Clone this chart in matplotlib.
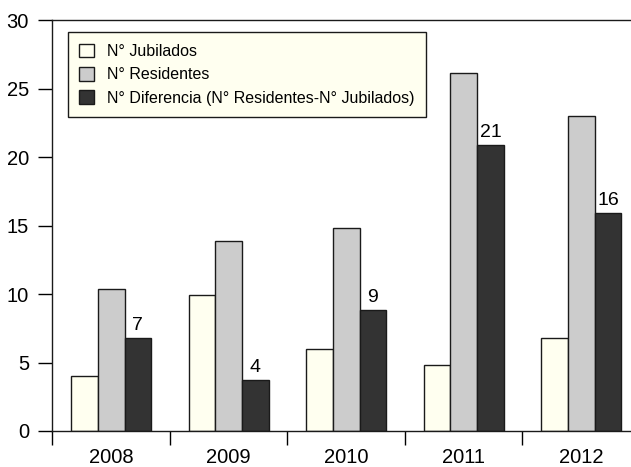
import numpy as np
import matplotlib
matplotlib.use("Agg")
import matplotlib.pyplot as plt

plt.rcParams['font.family'] = ['Liberation Sans', 'DejaVu Sans']

# datos
anios = ['2008', '2009', '2010', '2011', '2012']
jubilados = [4.0, 9.9, 6.0, 4.8, 6.8]
residentes = [10.4, 13.9, 14.8, 26.1, 23.0]
diferencia = [6.8, 3.7, 8.8, 20.9, 15.9]
etiquetas_dif = ['7', '4', '9', '21', '16']

fig = plt.figure(figsize=(6.31, 4.67), dpi=100)
ax = fig.add_axes([0.0832, 0.0771, 0.931, 0.880])

x = np.arange(len(anios))
w = 0.227
ax.bar(x - w, jubilados, w, color='#FFFFF0', edgecolor='#1a1a1a', linewidth=1,
       label='N° Jubilados')
ax.bar(x, residentes, w, color='#CCCCCC', edgecolor='#1a1a1a', linewidth=1,
       label='N° Residentes')
b3 = ax.bar(x + w, diferencia, w, color='#333333', edgecolor='#1a1a1a', linewidth=1,
            label='N° Diferencia (N° Residentes-N° Jubilados)')
ax.bar_label(b3, labels=etiquetas_dif, padding=3, fontsize=14)

ax.set_xlim(-0.5, len(anios) - 0.5)
ax.set_ylim(0, 30)
ax.set_yticks(np.arange(0, 31, 5))

# ticks de separacion entre categorias y etiquetas centradas
ax.set_xticks(np.arange(-0.5, len(anios), 1))
ax.set_xticklabels([])
ax.set_xticks(x, minor=True)
ax.set_xticklabels(anios, minor=True)
ax.tick_params(axis='x', which='major', direction='out', length=10, width=1)
ax.tick_params(axis='x', which='minor', length=0, pad=12, labelsize=14.5)
ax.tick_params(axis='y', direction='out', length=10, width=1, labelsize=14.5, pad=7)

for s in ['left', 'bottom', 'top']:
    ax.spines[s].set_linewidth(1)
    ax.spines[s].set_color('#1a1a1a')
ax.spines['right'].set_visible(False)

leg = ax.legend(loc='upper left', bbox_to_anchor=(0.026, 0.970), borderaxespad=0,
                fontsize=11.5, fancybox=False, framealpha=1, edgecolor='#1a1a1a',
                facecolor='#FFFFF0', handlelength=0.95, handleheight=0.95,
                handletextpad=0.8, labelspacing=0.5, borderpad=0.7)
leg.get_frame().set_linewidth(1)

fig.savefig('out.png', dpi=100)
